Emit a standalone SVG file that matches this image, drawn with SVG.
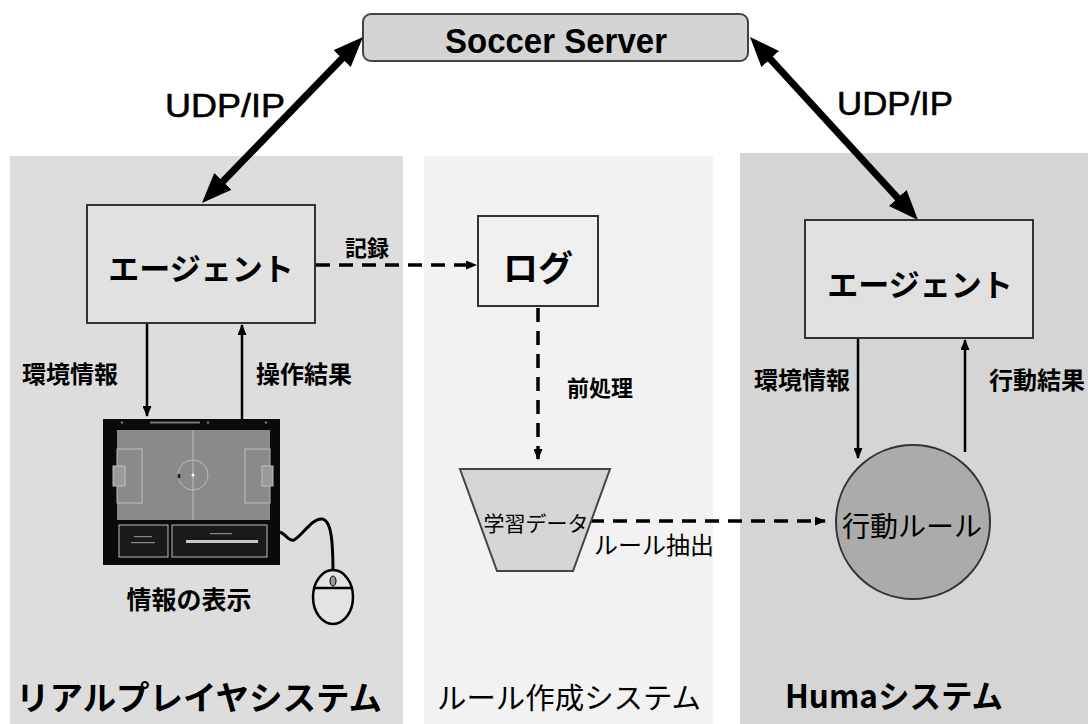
<svg xmlns="http://www.w3.org/2000/svg" width="1088" height="724" viewBox="0 0 1088 724">
  <defs>
    <marker id="bigHead" viewBox="0 0 30 24" refX="8" refY="12" markerWidth="30" markerHeight="24" markerUnits="userSpaceOnUse" orient="auto-start-reverse">
      <path d="M0,0 L30,12 L0,24 z" fill="#000"/>
    </marker>
    <marker id="smallHead" viewBox="0 0 11 9" refX="10" refY="4.5" markerWidth="11" markerHeight="9" markerUnits="userSpaceOnUse" orient="auto">
      <path d="M0,0 L11,4.5 L0,9 z" fill="#000"/>
    </marker>
    <style>
      .jp { font-family: "Noto Sans CJK JP", "Noto Sans", sans-serif; fill: #000; dominant-baseline: central; text-anchor: middle; }
      .lat { font-family: "Liberation Sans", Arial, sans-serif; fill: #000; text-anchor: middle; }
      .b { font-weight: 700; }
      .box { stroke: #333; stroke-width: 2; }
      .thick { stroke: #000; stroke-width: 7; fill: none; }
      .solid { stroke: #000; stroke-width: 2.5; fill: none; }
      .dash { stroke: #000; stroke-width: 3.5; fill: none; stroke-dasharray: 14 9; }
    </style>
  </defs>

  <rect width="1088" height="724" fill="#ffffff"/>

  <!-- system panels -->
  <g id="panels">
    <rect x="10" y="156" width="393" height="568" fill="#dddddd"/>
    <rect x="424" y="156" width="289" height="568" fill="#f2f2f2"/>
    <rect x="740" y="153" width="348" height="571" fill="#d5d5d5"/>
  </g>

  <!-- server -->
  <g id="soccer-server">
    <rect x="363" y="14" width="385" height="47" rx="8" ry="8" fill="#d4d4d4" stroke="#444" stroke-width="2"/>
    <text class="lat b" x="556" y="53" font-size="35" textLength="222" lengthAdjust="spacingAndGlyphs">Soccer Server</text>
  </g>

  <!-- connectors -->
  <g id="connectors">
    <line class="thick" x1="347.7" y1="52.8" x2="217.3" y2="187.2" marker-start="url(#bigHead)" marker-end="url(#bigHead)"/>
    <line class="thick" x1="764.9" y1="53.2" x2="903.1" y2="203.8" marker-start="url(#bigHead)" marker-end="url(#bigHead)"/>
    <text class="lat" x="225" y="117" font-size="34" stroke="#000" stroke-width="0.6" textLength="120" lengthAdjust="spacingAndGlyphs">UDP/IP</text>
    <text class="lat" x="895" y="115" font-size="34" stroke="#000" stroke-width="0.6" textLength="116" lengthAdjust="spacingAndGlyphs">UDP/IP</text>

    <!-- real player side -->
    <line class="solid" x1="147" y1="323" x2="147" y2="416" marker-end="url(#smallHead)"/>
    <line class="solid" x1="242" y1="419" x2="242" y2="325" marker-end="url(#smallHead)"/>
    <text class="jp b" x="70" y="372" font-size="24">環境情報</text>
    <text class="jp b" x="304" y="372" font-size="24">操作結果</text>

    <!-- log flow -->
    <line class="dash" x1="316" y1="265" x2="476" y2="265" marker-end="url(#smallHead)"/>
    <text class="jp b" x="367" y="246" font-size="22">記録</text>
    <line class="dash" x1="538" y1="308" x2="538" y2="459" marker-end="url(#smallHead)"/>
    <text class="jp b" x="600" y="386" font-size="22">前処理</text>
    <line class="dash" x1="590" y1="521" x2="825" y2="521" marker-end="url(#smallHead)"/>
    <text class="jp" x="654" y="543" font-size="24">ルール抽出</text>

    <!-- Huma side -->
    <line class="solid" x1="858" y1="338" x2="858" y2="458" marker-end="url(#smallHead)"/>
    <line class="solid" x1="965" y1="452" x2="965" y2="340" marker-end="url(#smallHead)"/>
    <text class="jp b" x="802" y="378" font-size="24">環境情報</text>
    <text class="jp b" x="1037" y="378" font-size="24">行動結果</text>
  </g>

  <!-- agent of the real player system -->
  <g id="agent-left">
    <rect class="box" x="87" y="205" width="228" height="118" fill="#e1e1e1"/>
    <text class="jp b" x="201" y="266" font-size="31">エージェント</text>
  </g>

  <!-- log -->
  <g id="log">
    <rect class="box" x="478" y="216" width="120" height="90" fill="#efefef"/>
    <text class="jp b" x="538" y="265" font-size="35">ログ</text>
  </g>

  <!-- training data -->
  <g id="training-data">
    <polygon points="460,469 610,469 573,571 497,571" fill="#d5d5d5" stroke="#444" stroke-width="2"/>
    <text class="jp" x="536" y="522" font-size="21">学習データ</text>
  </g>

  <!-- agent of the Huma system -->
  <g id="agent-right">
    <rect class="box" x="805" y="220" width="228" height="118" fill="#e0e0e0"/>
    <text class="jp b" x="920" y="282" font-size="31">エージェント</text>
  </g>

  <!-- behaviour rules -->
  <g id="behavior-rule">
    <circle cx="913" cy="522" r="77" fill="#ababab" stroke="#333" stroke-width="2"/>
    <text class="jp" x="912" y="525" font-size="28">行動ルール</text>
  </g>

  <!-- display monitor and mouse -->
  <g id="display">
    <rect x="103" y="419" width="177" height="146" fill="#0a0a0a"/>
    <rect x="150" y="421.5" width="50" height="2" fill="#777"/>
    <circle cx="122" cy="422.5" r="1.2" fill="#777"/>
    <circle cx="208" cy="422.5" r="1.2" fill="#777"/>
    <circle cx="266" cy="422.5" r="1.2" fill="#777"/>
    <!-- pitch -->
    <rect x="117" y="430" width="153" height="90" fill="#8a8a8a"/>
    <g fill="none" stroke="#bdbdbd" stroke-width="1">
      <line x1="193" y1="430" x2="193" y2="520"/>
      <circle cx="193" cy="475" r="15"/>
      <rect x="117" y="449" width="25" height="54"/>
      <rect x="245" y="449" width="25" height="54"/>
      <rect x="113" y="466" width="12" height="20" fill="#9a9a9a"/>
      <rect x="262" y="466" width="11" height="20" fill="#9a9a9a"/>
    </g>
    <circle cx="193" cy="475" r="1.5" fill="#fff"/>
    <ellipse cx="179" cy="476" rx="1.5" ry="2.5" fill="#222"/>
    <!-- status panels -->
    <rect x="119" y="525" width="49" height="32" fill="#1a1a1a" stroke="#bbb" stroke-width="1"/>
    <rect x="172" y="525" width="95" height="32" fill="#1a1a1a" stroke="#bbb" stroke-width="1"/>
    <rect x="134" y="536" width="18" height="1.2" fill="#888"/>
    <rect x="131" y="542" width="24" height="1.2" fill="#888"/>
    <rect x="210" y="533" width="22" height="1.2" fill="#888"/>
    <rect x="186" y="540" width="72" height="3" fill="#c8c8c8"/>
    <!-- cable and mouse -->
    <path d="M280,532 C286,534 289,542 294,540 C302,536 312,518 322,519 C332,520 333,545 333,575" fill="none" stroke="#000" stroke-width="3"/>
    <ellipse cx="333" cy="597" rx="20" ry="27" fill="#e3e3e3" stroke="#000" stroke-width="2.5"/>
    <line x1="313" y1="588" x2="353" y2="588" stroke="#000" stroke-width="2.5"/>
    <ellipse cx="333" cy="581" rx="3" ry="5" fill="#999" stroke="#000" stroke-width="1"/>
    <text class="jp b" x="189" y="598" font-size="25">情報の表示</text>
  </g>

  <!-- system titles -->
  <g id="titles">
    <text class="jp b" x="199" y="696" font-size="33" textLength="366" lengthAdjust="spacingAndGlyphs">リアルプレイヤシステム</text>
    <text class="jp" x="569" y="696" font-size="29" textLength="264" lengthAdjust="spacingAndGlyphs">ルール作成システム</text>
    <text class="jp b" x="894" y="694" font-size="32" textLength="218" lengthAdjust="spacingAndGlyphs">Humaシステム</text>
  </g>
</svg>
